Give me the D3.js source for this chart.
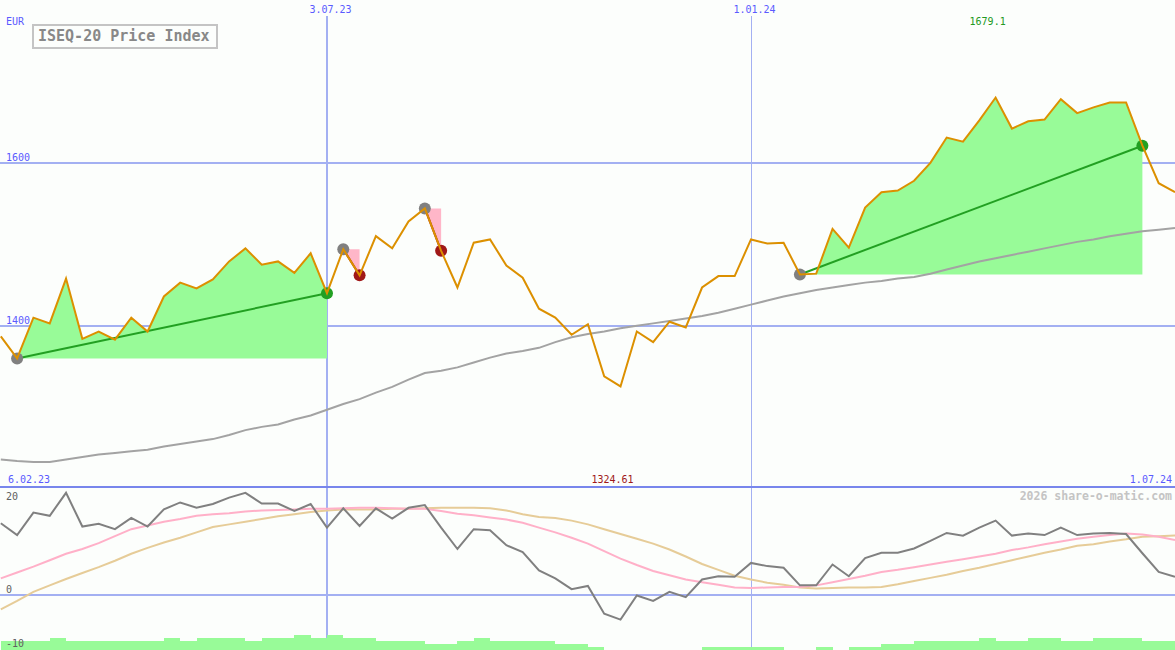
<!DOCTYPE html>
<html>
<head>
<meta charset="utf-8">
<script src="https://cdn.jsdelivr.net/npm/d3@7"></script>
<style>
  body { margin: 0; background: #fcfefc; }
  svg { display: block; }
</style>
</head>
<body>
<div id="chart"></div>
<script>
// weekly closes, ISEQ-20, Mondays
var weeks = [
  "13.02.23","20.02.23","27.02.23","06.03.23","13.03.23","20.03.23","27.03.23","03.04.23","10.04.23","17.04.23",
  "24.04.23","01.05.23","08.05.23","15.05.23","22.05.23","29.05.23","05.06.23","12.06.23","19.06.23","26.06.23",
  "03.07.23","10.07.23","17.07.23","24.07.23","31.07.23","07.08.23","14.08.23","21.08.23","28.08.23","04.09.23",
  "11.09.23","18.09.23","25.09.23","02.10.23","09.10.23","16.10.23","23.10.23","30.10.23","06.11.23","13.11.23",
  "20.11.23","27.11.23","04.12.23","11.12.23","18.12.23","25.12.23","01.01.24","08.01.24","15.01.24","22.01.24",
  "29.01.24","05.02.24","12.02.24","19.02.24","26.02.24","04.03.24","11.03.24","18.03.24","25.03.24","01.04.24",
  "08.04.24","15.04.24","22.04.24","29.04.24","06.05.24","13.05.24","20.05.24","27.05.24","03.06.24","10.06.24",
  "17.06.24","24.06.24","01.07.24"
];

var prices = [
  1386, 1359, 1409, 1402, 1457, 1383, 1392, 1382, 1409, 1392,
  1435, 1452, 1445, 1456, 1478, 1494, 1474, 1478, 1464, 1488,
  1439, 1493, 1461, 1509, 1494, 1527, 1543, 1491, 1446, 1501,
  1505, 1473, 1458, 1420, 1409, 1388, 1401, 1337, 1324.61, 1392,
  1379, 1404, 1397, 1446, 1460, 1460, 1505, 1500, 1501, 1462,
  1463, 1518, 1495, 1544, 1563, 1565, 1577, 1599, 1630, 1625,
  1651, 1679.1, 1641, 1650, 1652, 1677, 1660, 1667, 1673, 1673,
  1620, 1574, 1563
];

// long moving average (grey)
var movingAvg = [
  1235, 1233, 1232, 1232, 1235, 1238, 1241, 1243, 1245, 1247,
  1251, 1254, 1257, 1260, 1265, 1271, 1275, 1278, 1284, 1289,
  1296, 1303, 1309, 1317, 1324, 1333, 1341, 1344, 1348, 1354,
  1360, 1365, 1368, 1372, 1379, 1385, 1389, 1392, 1396, 1399,
  1402, 1405, 1408, 1411, 1415, 1420, 1425, 1430, 1435, 1439,
  1443, 1446, 1449, 1452, 1454, 1457, 1459, 1463, 1468, 1473,
  1478, 1482, 1486, 1490, 1494, 1498, 1502, 1505, 1509, 1512,
  1515, 1517, 1519
];

// lower panel
var momentum = [
  13.4, 11.2, 15.4, 14.8, 19.1, 12.8, 13.3, 12.3, 14.4, 12.8,
  16.0, 17.3, 16.3, 17.0, 18.2, 19.1, 17.1, 17.1, 15.7, 17.0,
  12.6, 16.2, 12.9, 16.2, 14.3, 16.3, 16.8, 12.6, 8.6, 12.3,
  12.1, 9.3, 8.0, 4.6, 3.1, 1.1, 1.7, -3.5, -4.6, -0.1,
  -1.1, 0.6, -0.4, 2.9, 3.5, 3.4, 6.0, 5.4, 5.1, 1.8,
  1.8, 5.7, 3.5, 6.9, 7.9, 7.9, 8.7, 10.1, 11.6, 11.1,
  12.6, 13.9, 11.1, 11.5, 11.2, 12.6, 11.2, 11.5, 11.6, 11.4,
  7.8, 4.3, 3.4
];
var signalFast = [
  3.1, 4.2, 5.3, 6.5, 7.7, 8.6, 9.7, 11.0, 12.3, 13.0,
  13.7, 14.2, 14.8, 15.1, 15.3, 15.6, 15.8, 15.9, 16.0, 16.1,
  16.1, 16.2, 16.3, 16.3, 16.2, 16.1, 16.1, 15.7, 15.2, 14.9,
  14.5, 14.1, 13.5, 12.6, 11.7, 10.7, 9.6, 8.2, 6.8, 5.6,
  4.5, 3.7, 2.9, 2.4, 1.9, 1.4, 1.3, 1.4, 1.5, 1.5,
  1.8, 2.4, 3.0, 3.6, 4.3, 4.7, 5.2, 5.7, 6.2, 6.7,
  7.2, 7.7, 8.4, 8.9, 9.5, 10.0, 10.5, 10.9, 11.2, 11.5,
  11.3, 10.9, 10.3
];
var signalSlow = [
  -2.7, -1.1, 0.6, 1.8, 3.0, 4.1, 5.2, 6.4, 7.7, 8.8,
  9.8, 10.7, 11.7, 12.7, 13.2, 13.7, 14.2, 14.7, 15.1, 15.5,
  15.8, 16.0, 16.0, 16.0, 16.1, 16.1, 16.2, 16.3, 16.3, 16.3,
  16.2, 15.8, 15.1, 14.6, 14.4, 13.9, 13.2, 12.3, 11.4, 10.5,
  9.6, 8.5, 7.2, 5.8, 4.7, 3.6, 2.9, 2.3, 1.9, 1.4,
  1.2, 1.3, 1.4, 1.4, 1.5, 2.0, 2.6, 3.2, 3.8, 4.5,
  5.1, 5.8, 6.5, 7.2, 7.9, 8.5, 9.2, 9.5, 10.0, 10.4,
  10.9, 11.0, 11.1
];
var volumes = [
  3, 3, 3, 4, 3, 3, 3, 3, 3, 3,
  4, 3, 4, 4, 4, 3, 4, 4, 5, 4,
  5, 4, 4, 3, 3, 3, 2, 2, 3, 4,
  3, 3, 3, 3, 2, 2, 1, 0, 0, 0,
  0, 0, 0, 1, 1, 1, 1, 1, 0, 0,
  1, 0, 1, 1, 2, 2, 3, 3, 3, 3,
  4, 3, 3, 4, 4, 3, 3, 4, 4, 4,
  3, 3, 3
];

var trades = [
  { buy: "20.02.23", sell: "03.07.23" },
  { buy: "10.07.23", sell: "17.07.23" },
  { buy: "14.08.23", sell: "21.08.23" },
  { buy: "22.01.24", sell: "17.06.24" }
];

var priceTicks = [1400, 1600];
var dateTicks = ["03.07.23", "01.01.24"];
var oscTicks = [20, 0, -10];
var firstDate = "06.02.23", lastDate = "01.07.24";

var width = 1175, height = 650;
var font = "'DejaVu Sans Mono', monospace";
var blue = "#5a5aff", gridBlue = "#a3b0f2";

var parseDate = d3.utcParse("%d.%m.%y");
var fmtDate = d3.utcFormat("%-d.%m.%y");

var data = weeks.map(function (w, i) {
  return { date: parseDate(w), price: prices[i], ma: movingAvg[i], mom: momentum[i],
    fast: signalFast[i], slow: signalSlow[i], vol: volumes[i] };
});

var x = d3.scaleUtc().domain([parseDate(firstDate), parseDate(lastDate)]).range([-15.5, width]);
var y = d3.scaleLinear().domain([1200, 1800]).range([488, -1]);
var yOsc = d3.scaleLinear().domain([-10, 20]).range([648.5, 488]);
var yVol = d3.scaleLinear().domain([0, 5]).range([0, 15]);

var svg = d3.select("#chart").append("svg")
  .attr("width", width).attr("height", height)
  .style("font-family", font);

svg.append("rect").attr("width", width).attr("height", height).attr("fill", "#fcfefc");

// price grid
svg.append("g")
  .call(d3.axisRight(y).tickValues(priceTicks).tickSize(width).tickFormat(d3.format("d")))
  .call(function (g) { g.select(".domain").remove(); })
  .call(function (g) {
    g.selectAll("line").attr("stroke", gridBlue).attr("stroke-width", 2).attr("shape-rendering", "crispEdges");
  })
  .call(function (g) {
    g.selectAll("text").attr("x", 6).attr("dy", -2).attr("text-anchor", "start")
      .attr("fill", blue).style("font-family", font).style("font-size", "10px");
  });

// date grid
svg.append("g")
  .attr("transform", "translate(0,16)")
  .call(d3.axisTop(x).tickValues(dateTicks.map(parseDate)).tickSize(-(height - 16)).tickFormat(fmtDate))
  .call(function (g) { g.select(".domain").remove(); })
  .call(function (g) {
    g.selectAll("line").attr("stroke", gridBlue)
      .attr("stroke-width", function (d, i) { return i === 0 ? 2 : 1; })
      .attr("shape-rendering", "crispEdges");
  })
  .call(function (g) {
    g.selectAll("text").attr("dx", 3).attr("fill", blue)
      .style("font-family", font).style("font-size", "10px");
  });

// zero line of lower panel
svg.append("line")
  .attr("x1", 0).attr("x2", width)
  .attr("y1", yOsc(0)).attr("y2", yOsc(0))
  .attr("stroke", gridBlue).attr("stroke-width", 2).attr("shape-rendering", "crispEdges");

// separator
svg.append("line")
  .attr("x1", 0).attr("x2", width)
  .attr("y1", yOsc(20) - 1).attr("y2", yOsc(20) - 1)
  .attr("stroke", "#7886ec").attr("stroke-width", 2).attr("shape-rendering", "crispEdges");

// trade areas
var byDate = {};
data.forEach(function (d, i) { byDate[fmtDate(d.date)] = i; });
trades.forEach(function (t) {
  var bi = byDate[fmtDate(parseDate(t.buy))], si = byDate[fmtDate(parseDate(t.sell))];
  t.b = data[bi]; t.s = data[si];
  t.seg = data.slice(bi, si + 1);
  t.win = t.s.price > t.b.price;
});

svg.selectAll(".trade-area")
  .data(trades)
  .enter().append("path")
  .attr("class", "trade-area")
  .attr("fill", function (t) { return t.win ? "#98fb98" : "#ffb6c8"; })
  .attr("d", function (t) {
    return d3.area()
      .x(function (d) { return x(d.date); })
      .y0(y(t.b.price))
      .y1(function (d) { return y(d.price); })(t.seg);
  });

// volume bars
svg.selectAll(".vol")
  .data(data)
  .enter().append("rect")
  .attr("class", "vol")
  .attr("x", function (d) { return x(d.date); })
  .attr("width", function (d) { return x(d3.utcDay.offset(d.date, 7)) - x(d.date); })
  .attr("y", function (d) { return height - yVol(d.vol); })
  .attr("height", function (d) { return yVol(d.vol); })
  .attr("fill", "#98fb98")
  .attr("shape-rendering", "crispEdges");

// moving average
svg.append("path")
  .datum(data)
  .attr("fill", "none").attr("stroke", "#a3a3a3").attr("stroke-width", 2)
  .attr("d", d3.line().x(function (d) { return x(d.date); }).y(function (d) { return y(d.ma); }));

// trade lines and dots
svg.selectAll(".trade-line")
  .data(trades)
  .enter().append("line")
  .attr("class", "trade-line")
  .attr("x1", function (t) { return x(t.b.date); })
  .attr("y1", function (t) { return y(t.b.price); })
  .attr("x2", function (t) { return x(t.s.date); })
  .attr("y2", function (t) { return y(t.s.price); })
  .attr("stroke", function (t) { return t.win ? "#22a022" : "#a01818"; })
  .attr("stroke-width", 2);

trades.forEach(function (t) {
  svg.append("circle").attr("cx", x(t.b.date)).attr("cy", y(t.b.price)).attr("r", 6).attr("fill", "#808080");
  svg.append("circle").attr("cx", x(t.s.date)).attr("cy", y(t.s.price)).attr("r", 6)
    .attr("fill", t.win ? "#22a022" : "#a01818");
});

// price line
svg.append("path")
  .datum(data)
  .attr("fill", "none").attr("stroke", "#dc9000").attr("stroke-width", 2)
  .attr("stroke-linejoin", "miter")
  .attr("d", d3.line().x(function (d) { return x(d.date); }).y(function (d) { return y(d.price); }));

// lower panel lines
var oscLines = [
  { key: "slow", color: "#e6cc98" },
  { key: "fast", color: "#ffb0c8" },
  { key: "mom", color: "#808080" }
];
oscLines.forEach(function (l) {
  svg.append("path")
    .datum(data)
    .attr("fill", "none").attr("stroke", l.color).attr("stroke-width", 2)
    .attr("d", d3.line().x(function (d) { return x(d.date); }).y(function (d) { return yOsc(d[l.key]); }));
});

// texts
svg.append("text").attr("x", 6).attr("y", 25).attr("fill", blue).attr("font-size", 10).text("EUR");

var maxD = data[d3.maxIndex(data, function (d) { return d.price; })];
var minD = data[d3.minIndex(data, function (d) { return d.price; })];
svg.append("text").attr("x", x(maxD.date) - 8).attr("y", 25).attr("text-anchor", "middle")
  .attr("fill", "#229922").attr("font-size", 10).text(maxD.price);
svg.append("text").attr("x", x(minD.date) - 8).attr("y", 483).attr("text-anchor", "middle")
  .attr("fill", "#a01818").attr("font-size", 10).text(minD.price);

svg.append("text").attr("x", 8).attr("y", 483).attr("fill", blue).attr("font-size", 10)
  .text(fmtDate(x.domain()[0]));
svg.append("text").attr("x", 1172).attr("y", 483).attr("text-anchor", "end").attr("fill", blue).attr("font-size", 10)
  .text(fmtDate(x.domain()[1]));

svg.selectAll(".osc-label")
  .data(oscTicks)
  .enter().append("text")
  .attr("class", "osc-label")
  .attr("x", 6)
  .attr("y", function (d) { return d === 20 ? yOsc(d) + 12 : yOsc(d) - 2; })
  .attr("fill", "#606060").attr("font-size", 10)
  .text(function (d) { return d; });

svg.append("text").attr("x", 1172).attr("y", 500).attr("text-anchor", "end")
  .attr("fill", "#c4c4c4").attr("font-size", 11.5).attr("font-weight", "bold")
  .text("2026 share-o-matic.com");

// title box
svg.append("rect").attr("x", 33).attr("y", 25).attr("width", 184).attr("height", 23)
  .attr("fill", "#fcfefc").attr("stroke", "#c4c4c4").attr("stroke-width", 2);
svg.append("text").attr("x", 38).attr("y", 41).attr("fill", "#888888")
  .attr("font-size", 15).attr("font-weight", "bold").text("ISEQ-20 Price Index");
</script>
</body>
</html>
